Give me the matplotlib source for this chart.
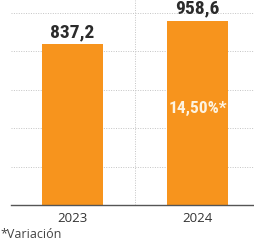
import matplotlib.pyplot as plt

years = ['2023', '2024']
values = [837.2, 958.6]
value_labels = ['837,2', '958,6']
variation_label = '14,50%*'

fig = plt.figure(figsize=(2.54, 2.41), dpi=100)
ax = fig.add_axes([11 / 254, 36 / 241, 243 / 254, 205 / 241])

x = range(len(years))
ax.bar(x, values, width=0.488, color='#F7941D', zorder=2)

ax.set_ylim(0, 1066)
ax.set_xlim(-0.492, 1.452)
ax.set_yticks([200, 400, 600, 800, 1000])
ax.yaxis.grid(True, color='#c4c4c4', linestyle=(0, (1, 1.5)), linewidth=0.7, zorder=0)
ax.axvline(0.5, color='#c4c4c4', linestyle=(0, (1, 1.5)), linewidth=0.7, zorder=0)

for s in ['top', 'right', 'left']:
    ax.spines[s].set_visible(False)
ax.spines['bottom'].set_color('#555555')
ax.spines['bottom'].set_linewidth(1.0)
ax.tick_params(axis='y', left=False, labelleft=False)
ax.tick_params(axis='x', length=0, pad=5, labelsize=9.5, labelcolor='#333333')
ax.set_xticks(list(x))
ax.set_xticklabels(years, family='Open Sans')

# value labels above bars
for i, v in enumerate(values):
    ax.text(i, v + 16, value_labels[i], ha='center', va='bottom',
            fontsize=14, fontweight='bold', color='#2b2b2b', family='Roboto Condensed')

ax.text(1, 500, variation_label, ha='center', va='center',
        fontsize=12.5, fontweight='bold', color='#fdf3e0', family='Roboto Condensed')

fig.text(0.0, 6 / 241, '*Variación', ha='left', va='center',
         fontsize=9, color='#444444', family='Open Sans')

fig.savefig('out.png', dpi=100)
